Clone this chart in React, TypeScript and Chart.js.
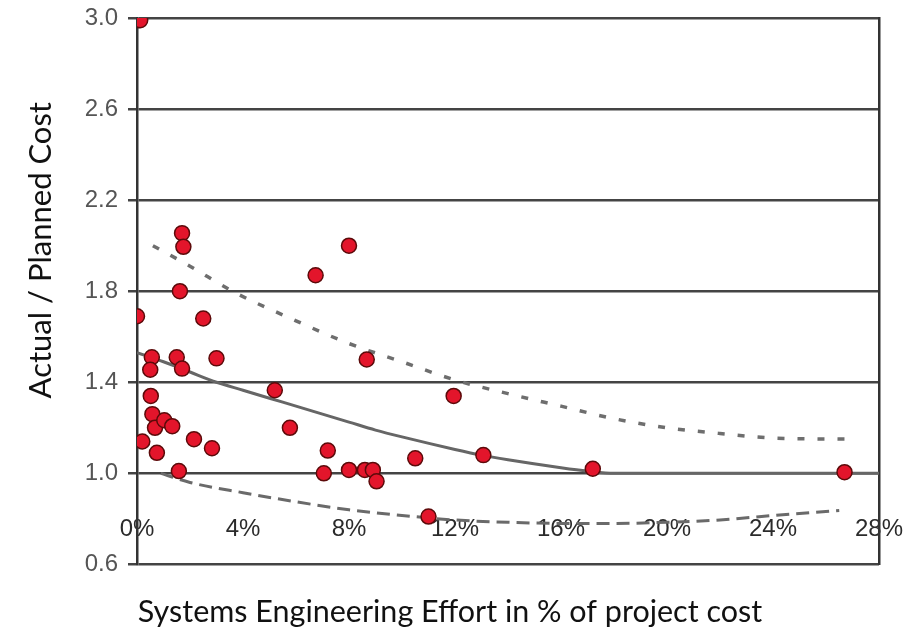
import { useEffect, useRef } from "react";
import { Chart, registerables } from "chart.js";

Chart.register(...registerables);

// Scatter points: SE effort (% of project cost) and actual / planned cost
const pointX = [0.12, 0, 1.7, 1.75, 1.62, 2.5, 0.56, 0.5, 1.5, 1.7, 3.0, 0.52, 0.58, 0.68, 1.03, 1.33, 0.2, 0.75, 2.15, 2.83, 1.58, 5.2, 5.77, 7.2, 7.05, 6.74, 8.0, 8.67, 11.95, 8.0, 8.6, 8.9, 9.04, 10.5, 11.0, 13.07, 17.2, 26.7];
const pointY = [2.99, 1.69, 2.055, 1.995, 1.8, 1.68, 1.51, 1.455, 1.51, 1.46, 1.505, 1.34, 1.26, 1.2, 1.233, 1.207, 1.14, 1.09, 1.15, 1.11, 1.01, 1.365, 1.2, 1.1, 1.0, 1.87, 2.0, 1.5, 1.34, 1.015, 1.015, 1.015, 0.965, 1.066, 0.81, 1.08, 1.02, 1.005];

// Fitted trend line
const fitX = [0, 1, 2, 3, 4, 5, 6, 7, 8, 9, 10, 12, 13, 14, 16, 17, 18, 22, 28];
const fitY = [1.53, 1.49, 1.445, 1.4, 1.365, 1.33, 1.295, 1.26, 1.225, 1.19, 1.16, 1.105, 1.08, 1.06, 1.025, 1.01, 1.0, 1.0, 1.0];

// Upper confidence bound (dashed)
const upperX = [0.6, 2, 3.6, 6, 8, 10, 12, 14, 16, 18, 20, 22, 24, 27];
const upperY = [2.0, 1.91, 1.8, 1.67, 1.57, 1.49, 1.41, 1.35, 1.295, 1.24, 1.2, 1.175, 1.155, 1.15];

// Lower confidence bound (dashed)
const lowerX = [0.9, 2, 4, 6, 8, 10, 12, 14, 16, 18, 20, 22, 24, 26.5];
const lowerY = [1.0, 0.96, 0.915, 0.875, 0.84, 0.815, 0.795, 0.785, 0.78, 0.78, 0.785, 0.795, 0.815, 0.837];

const xTickValues = [0, 4, 8, 12, 16, 20, 24, 28];
const yTickValues = [0.6, 1.0, 1.4, 1.8, 2.2, 2.6, 3.0];

const xTitle = "Systems Engineering Effort in % of project cost";
const yTitle = "Actual / Planned Cost";

const zip = (xs: number[], ys: number[]) => xs.map((x, i) => ({ x, y: ys[i] }));

export default function App() {
  const ref = useRef<HTMLCanvasElement>(null);

  useEffect(() => {
    if (!ref.current) return;
    const yTitlePlugin = {
      id: "yTitleText",
      afterDraw(chart: any) {
        const { ctx, chartArea } = chart;
        ctx.save();
        ctx.translate(41, chartArea.top + (chartArea.bottom - chartArea.top) * 0.425);
        ctx.rotate(-Math.PI / 2);
        ctx.font = "31px Lato";
        ctx.fillStyle = "#111";
        ctx.textAlign = "center";
        ctx.textBaseline = "middle";
        ctx.fillText(yTitle, 0, 0);
        ctx.restore();
      },
    };

    const chart = new Chart(ref.current, {
      type: "scatter",
      data: {
        datasets: [
          {
            type: "scatter",
            data: zip(pointX, pointY),
            backgroundColor: "#e3152b",
            borderColor: "#5c0a0a",
            borderWidth: 1.5,
            pointRadius: 7.5,
            order: 0,
          },
          {
            type: "line",
            data: zip(fitX, fitY),
            borderColor: "#666666",
            borderWidth: 3,
            pointRadius: 0,
            cubicInterpolationMode: "monotone",
            fill: false,
            order: 1,
          },
          {
            type: "line",
            data: zip(upperX, upperY),
            borderColor: "#6e6e6e",
            borderWidth: 3.5,
            borderDash: [7, 13],
            pointRadius: 0,
            cubicInterpolationMode: "monotone",
            fill: false,
            order: 1,
          },
          {
            type: "line",
            data: zip(lowerX, lowerY),
            borderColor: "#6a6a6a",
            borderWidth: 3,
            borderDash: [13, 7],
            pointRadius: 0,
            cubicInterpolationMode: "monotone",
            fill: false,
            order: 1,
          },
        ] as any,
      },
      options: {
        animation: false,
        responsive: false,
        layout: { padding: { left: 20, right: 23, top: 18, bottom: 0 }, autoPadding: false },
        plugins: {
          legend: { display: false },
          tooltip: { enabled: false },
          title: {
            display: true,
            position: "bottom",
            text: xTitle,
            font: { family: "Lato", size: 30.5, weight: "normal" },
            color: "#111",
            padding: { top: 29, bottom: 8 },
          },
        },
        scales: {
          x: {
            type: "linear",
            min: 0,
            max: 28,
            position: { y: 0.815 } as any,
            afterBuildTicks: (s: any) => {
              s.ticks = xTickValues.map((v) => ({ value: v }));
            },
            grid: { display: false, drawTicks: false },
            border: { display: false },
            ticks: {
              padding: 0,
              maxRotation: 0,
              autoSkip: false,
              callback: (v: any) => v + "%",
              font: { family: "Liberation Sans", size: 24 },
              color: "#2b2b2b",
            },
          },
          y: {
            type: "linear",
            min: 0.6,
            max: 3.0,
            afterBuildTicks: (s: any) => {
              s.ticks = yTickValues.map((v) => ({ value: v }));
            },
            afterFit: (s: any) => {
              s.width = 117;
              s.paddingTop = 0;
              s.paddingBottom = 0;
            },
            grid: { color: "#444", lineWidth: 2.5, tickLength: 9 },
            border: { color: "#333", width: 2.5 },
            ticks: {
              padding: 10,
              callback: (v: any) => Number(v).toFixed(1),
              font: { family: "Liberation Sans", size: 24 },
              color: "#555",
            },
          },
          y2: {
            type: "linear",
            position: "right",
            min: 0.6,
            max: 3.0,
            display: true,
            grid: { display: false },
            ticks: { display: false },
            border: { color: "#333", width: 2.5 },
            afterFit: (s: any) => {
              s.width = 0;
              s.paddingTop = 0;
              s.paddingBottom = 0;
            },
          },
        } as any,
      },
      plugins: [yTitlePlugin],
    });
    return () => chart.destroy();
  }, []);

  return (
    <div style={{ position: "fixed", left: 0, top: 0, width: 903, height: 638, background: "#fff" }}>
      <canvas ref={ref} width={903} height={638} style={{ display: "block" }} />
    </div>
  );
}
